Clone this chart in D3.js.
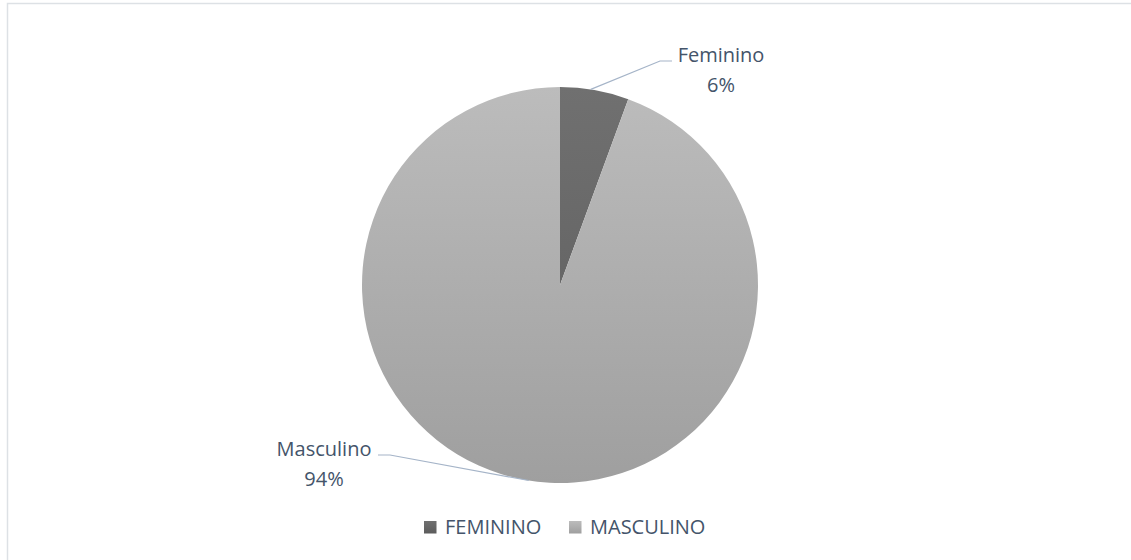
<!DOCTYPE html>
<html><head><meta charset="utf-8">
<script src="https://cdn.jsdelivr.net/npm/d3@7"></script>
<style>html,body{margin:0;padding:0;background:#fff;overflow:hidden}</style>
</head><body>
<svg id="chart" width="1131" height="560"></svg>
<script>
const categories = ["Feminino", "Masculino"];
const legendLabels = ["FEMININO", "MASCULINO"];
const values = [5.6, 94.4];

const svg = d3.select("#chart");
const W = 1131, H = 560;
const cx = 560, cy = 285, R = 198;
const fontFam = "'Open Sans', 'Liberation Sans', sans-serif";
const textColor = "#44546a";
const leaderColor = "#a5b4c8";

// frame
svg.append("rect").attr("x", 7.5).attr("y", 3.5).attr("width", W + 10).attr("height", H + 10)
  .attr("fill", "#fff").attr("stroke", "#dde1e5").attr("stroke-width", 1.5);

const defs = svg.append("defs");
const stops = [["#707070", "#5c5c5c"], ["#bcbcbc", "#9f9f9f"]];
stops.forEach((s, i) => {
  const g = defs.append("linearGradient").attr("id", "g" + i)
    .attr("gradientUnits", "userSpaceOnUse")
    .attr("x1", 0).attr("y1", -R).attr("x2", 0).attr("y2", R);
  g.append("stop").attr("offset", "0%").attr("stop-color", s[0]);
  g.append("stop").attr("offset", "100%").attr("stop-color", s[1]);
  const lg = defs.append("linearGradient").attr("id", "lg" + i)
    .attr("x1", 0).attr("y1", 0).attr("x2", 0).attr("y2", 1);
  lg.append("stop").attr("offset", "0%").attr("stop-color", s[0]);
  lg.append("stop").attr("offset", "100%").attr("stop-color", s[1]);
});

const pie = d3.pie().sort(null).value(d => d)(values);
const arc = d3.arc().innerRadius(0).outerRadius(R);

svg.append("g").attr("transform", `translate(${cx},${cy})`)
  .selectAll("path").data(pie).join("path")
  .attr("d", arc)
  .attr("fill", (d, i) => `url(#g${i})`);

const total = d3.sum(values);
const pct = v => Math.round(v / total * 100) + "%";

// leader lines
const pt = (a, r) => [cx + r * Math.sin(a), cy - r * Math.cos(a)];
const fA = (pie[0].startAngle + pie[0].endAngle) / 2;
const f0 = pt(fA - 0.02, R);
const mA = 3.3;
const m0 = pt(mA, R);
const line = d3.line();
svg.append("path").attr("d", line([f0, [660, 61], [672, 61]]))
  .attr("fill", "none").attr("stroke", leaderColor).attr("stroke-width", 1.2);
svg.append("path").attr("d", line([m0, [390, 455], [378, 455]]))
  .attr("fill", "none").attr("stroke", leaderColor).attr("stroke-width", 1.2);

const labels = [
  {x: 721, y: 62, name: categories[0], v: values[0]},
  {x: 324, y: 456, name: categories[1], v: values[1]}
];
labels.forEach(l => {
  const t = svg.append("text").attr("x", l.x).attr("y", l.y).attr("text-anchor", "middle")
    .attr("font-family", fontFam).attr("font-size", 20).attr("fill", textColor);
  t.append("tspan").attr("x", l.x).text(l.name);
  t.append("tspan").attr("x", l.x).attr("dy", 30).text(pct(l.v));
});

// legend
const legX = [424, 569];
legendLabels.forEach((name, i) => {
  svg.append("rect").attr("x", legX[i]).attr("y", 521).attr("width", 12.5).attr("height", 12.5)
    .attr("fill", `url(#lg${i})`);
  svg.append("text").attr("x", legX[i] + 21).attr("y", 534)
    .attr("font-family", fontFam).attr("font-size", 20).attr("fill", textColor).text(name);
});
</script>
</body></html>
